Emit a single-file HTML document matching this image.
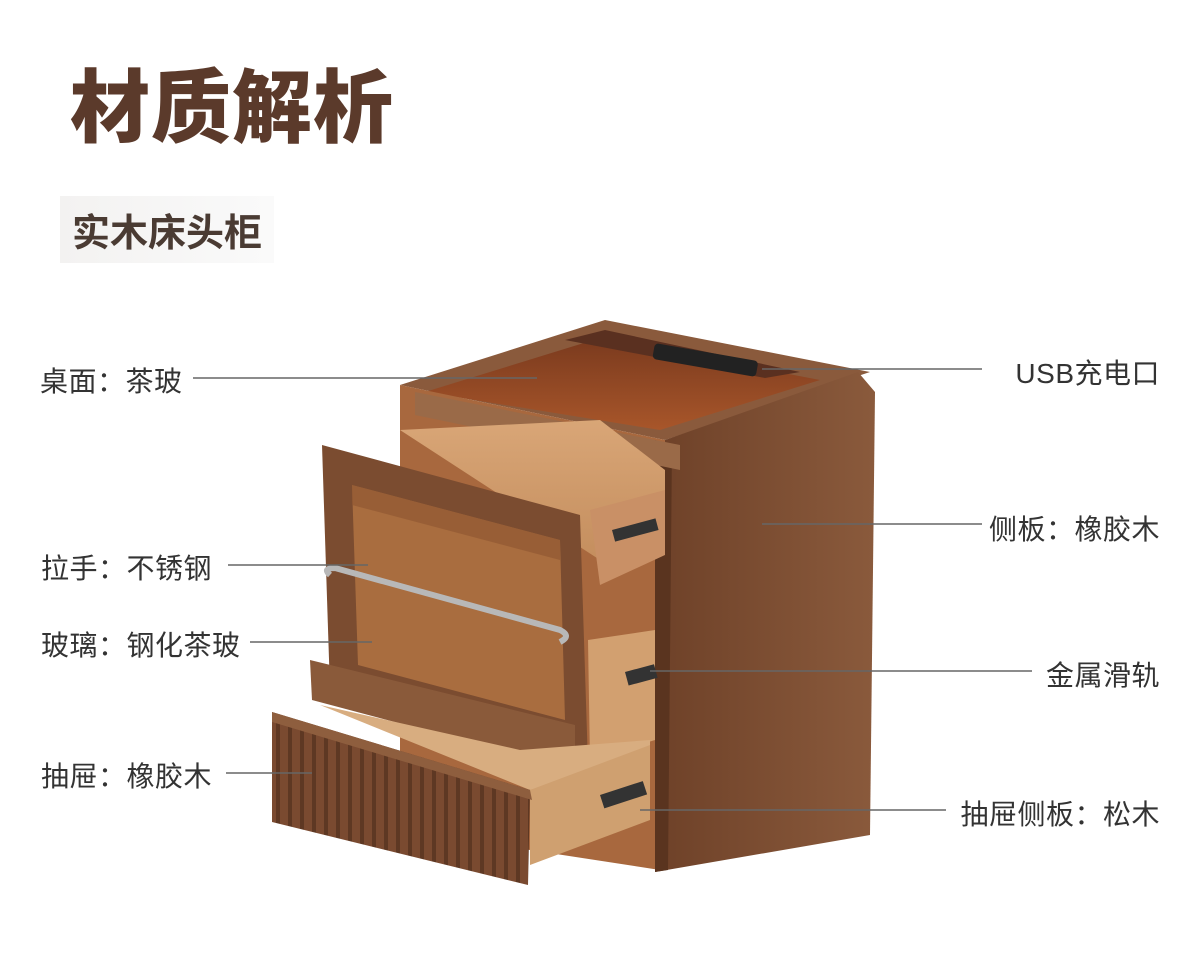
<!DOCTYPE html>
<html><head><meta charset="utf-8">
<style>
html,body{margin:0;padding:0;background:#fff;}
body{width:1200px;height:969px;position:relative;overflow:hidden;font-family:"Liberation Sans","Noto Sans CJK SC",sans-serif;}
.t{position:absolute;white-space:nowrap;}
#title{left:70px;top:44px;font-size:80px;font-weight:900;color:#5b3a2b;letter-spacing:1px;}
#sub{left:60px;top:196px;padding:6px 12px;font-size:38px;font-weight:700;color:#4a3b33;background:linear-gradient(90deg,#f3f2f1,#fafafa);}
.l{font-size:28px;color:#333;letter-spacing:0.5px;}
.r{right:40px;}
svg{position:absolute;left:0;top:0;}
</style></head><body>
<div class="t" id="title">材质解析</div>
<div class="t" id="sub">实木床头柜</div>

<svg width="1200" height="969" viewBox="0 0 1200 969">
<defs>
<linearGradient id="side" x1="0" x2="1"><stop offset="0" stop-color="#6e4128"/><stop offset="1" stop-color="#8a5a3c"/></linearGradient>
<linearGradient id="inner" x1="0" y1="0" x2="0" y2="1"><stop offset="0" stop-color="#7a3a1e"/><stop offset="1" stop-color="#a8562a"/></linearGradient>
<linearGradient id="drw" x1="0" y1="0" x2="0" y2="1"><stop offset="0" stop-color="#d9a677"/><stop offset="1" stop-color="#c48e5e"/></linearGradient>
<pattern id="rib" width="12" height="10" patternUnits="userSpaceOnUse"><rect width="12" height="10" fill="#7a4a30"/><rect x="0" width="4" height="10" fill="#5e3823"/></pattern>
</defs>
<polygon points="400,385 605,320 870,372 665,440" fill="#8a5a3c"/>
<polygon points="425,392 600,338 820,380 660,430" fill="url(#inner)"/>
<polygon points="565,340 605,330 800,372 765,378" fill="#5a3020"/>
<rect x="655" y="343" width="105" height="16" rx="4" fill="#222" transform="rotate(10 655 343)"/>
<polygon points="400,385 665,440 660,870 400,830" fill="#a8683e"/>
<polygon points="665,440 858,372 875,392 870,835 655,872" fill="url(#side)"/>
<polygon points="655,440 672,446 668,870 655,872" fill="#5a341f"/>
<polygon points="415,392 680,445 680,470 415,415" fill="#9a6a48"/>
<polygon points="400,430 600,420 665,470 665,550 600,560" fill="url(#drw)"/>
<polygon points="590,510 665,490 665,555 600,585" fill="#c99066"/>
<rect x="612" y="530" width="45" height="12" fill="#333" transform="rotate(-15 612 530)"/>
<polygon points="322,445 580,515 588,765 330,690" fill="#7b4c30"/>
<polygon points="352,485 560,540 565,720 358,665" fill="#b87844" opacity="0.75"/>
<polygon points="352,485 560,540 560,560 352,505" fill="#8e5530" opacity="0.6"/>
<path d="M330,575 Q322,568 335,568 L560,630 Q572,636 560,642" stroke="#b8b8b8" stroke-width="6" fill="none"/>
<polygon points="588,640 655,630 655,740 590,760" fill="#d2a070"/>
<rect x="625" y="672" width="30" height="14" fill="#333" transform="rotate(-15 625 672)"/>
<polygon points="310,660 575,725 575,770 312,700" fill="#8a5a3a"/>
<polygon points="320,705 520,750 650,740 650,760 530,790" fill="#d8ad80"/>
<polygon points="530,790 650,745 650,820 530,865" fill="#cfa070"/>
<rect x="600" y="795" width="45" height="14" fill="#333" transform="rotate(-18 600 795)"/>
<polygon points="272,712 530,790 528,885 272,822" fill="url(#rib)"/>
<polygon points="272,712 530,790 532,800 272,722" fill="#8e5e3e"/>
<g stroke="#666" stroke-width="1.5">
<line x1="193" y1="378" x2="537" y2="378"/>
<line x1="762" y1="369" x2="982" y2="369"/>
<line x1="762" y1="524" x2="982" y2="524"/>
<line x1="228" y1="565" x2="368" y2="565"/>
<line x1="250" y1="642" x2="372" y2="642"/>
<line x1="650" y1="671" x2="1032" y2="671"/>
<line x1="226" y1="773" x2="312" y2="773"/>
<line x1="640" y1="810" x2="946" y2="810"/>
</g>
</svg>

<div class="t l" style="left:40px;top:360px;">桌面：茶玻</div>
<div class="t l r" style="top:352px;">USB充电口</div>
<div class="t l r" style="top:508px;">侧板：橡胶木</div>
<div class="t l" style="left:41px;top:547px;">拉手：不锈钢</div>
<div class="t l" style="left:41px;top:624px;">玻璃：钢化茶玻</div>
<div class="t l r" style="top:654px;">金属滑轨</div>
<div class="t l" style="left:41px;top:755px;">抽屉：橡胶木</div>
<div class="t l r" style="top:793px;">抽屉侧板：松木</div>
</body></html>
